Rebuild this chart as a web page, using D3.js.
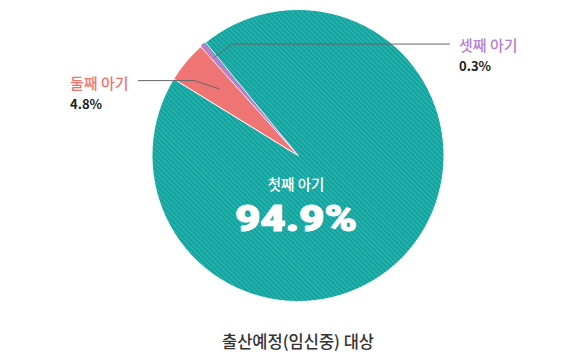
<!DOCTYPE html>
<html><head><meta charset="utf-8">
<script src="https://cdn.jsdelivr.net/npm/d3@7"></script>
<style>
body{margin:0;background:#fff;}
text{font-family:"Noto Sans CJK KR","Noto Sans",sans-serif;}
</style></head>
<body><svg id="c" width="570" height="364"></svg>
<script>
const categories = ["첫째 아기","둘째 아기","셋째 아기"];
const values = [94.9, 4.8, 0.3];
const valueLabels = ["94.9%","4.8%","0.3%"];
const colors = ["#10a39e","#ef7474","#b681cf"];
const title = "출산예정(임신중) 대상";

const svg = d3.select("#c");
const cx = 298, cy = 155.5, R = 146;
const defs = svg.append("defs");
const pat = defs.append("pattern").attr("id","stripe").attr("patternUnits","userSpaceOnUse")
  .attr("width",3.5).attr("height",3.5).attr("patternTransform","rotate(45)");
pat.append("rect").attr("width",3.5).attr("height",3.5).attr("fill","#0fa49f");
pat.append("rect").attr("width",3.5).attr("height",1.1).attr("fill","#38b5b0");

const startA = -40.0*Math.PI/180;
const pie = d3.pie().sort(null).value(d=>d).startAngle(startA).endAngle(startA+2*Math.PI);
const arcs = pie(values);
const arc = d3.arc().innerRadius(0).outerRadius(R);
const g = svg.append("g").attr("transform",`translate(${cx},${cy})`);
g.selectAll("path.s").data(arcs).join("path").attr("class","s")
  .attr("d",arc)
  .attr("fill",(d,i)=> i===0 ? "url(#stripe)" : colors[i])
  .attr("stroke",(d,i)=> i===2 ? colors[2] : "#fff")
  .attr("stroke-width",(d,i)=> i===2 ? 1.6 : 0.9).attr("stroke-linejoin","round");
// white separators just outside the small slice
const off = 0.75*Math.PI/180;
[arcs[2].startAngle-off, arcs[2].endAngle+off].forEach(a=>{
  g.append("line").attr("x1",0).attr("y1",0)
   .attr("x2",Math.sin(a)*R).attr("y2",-Math.cos(a)*R)
   .attr("stroke","#fff").attr("stroke-width",0.9);
});

// leader lines
function leader(d, rIn, dx, dy, hx){
  const a = (d.startAngle+d.endAngle)/2;
  const p1 = [Math.sin(a)*rIn, -Math.cos(a)*rIn];
  const p2 = [p1[0]+dx, p1[1]+dy];
  return [p1,p2,[hx,p2[1]]];
}
const line = d3.line();
const l1 = leader(arcs[1], 103, -25, -8.3, 138-cx);
const l2 = leader(arcs[2], 129, 18, -13.4, 450-cx);
[l1,l2].forEach(pts=>{
  g.append("path").attr("d",line(pts)).attr("fill","none").attr("stroke","#666").attr("stroke-width",1);
});

// labels
svg.append("text").attr("x",70).attr("y",89).attr("fill",colors[1]).attr("font-size",15).attr("font-weight",500).text(categories[1]);
svg.append("text").attr("x",70).attr("y",108.5).attr("fill","#222").attr("font-size",13).attr("font-weight",700).text(valueLabels[1]);
svg.append("text").attr("x",459).attr("y",50.5).attr("fill",colors[2]).attr("font-size",15).attr("font-weight",500).text(categories[2]);
svg.append("text").attr("x",459).attr("y",70.5).attr("fill","#222").attr("font-size",13).attr("font-weight",700).text(valueLabels[2]);

svg.append("text").attr("x",296).attr("y",190).attr("text-anchor","middle").attr("fill","#fff").attr("font-size",14.5).attr("font-weight",500).text(categories[0]);
svg.append("text").attr("transform","translate(296,230.5) scale(1.17,1)").attr("text-anchor","middle").attr("fill","#fff")
  .attr("stroke","#fff").attr("stroke-width",1.1).attr("stroke-linejoin","round")
  .style("font-family","Roboto, 'Noto Sans', sans-serif").attr("font-size",37.5).attr("font-weight",900)
  .text(valueLabels[0]);

svg.append("text").attr("x",298).attr("y",348).attr("text-anchor","middle").attr("fill","#333").attr("font-size",16.5).attr("font-weight",500).text(title);
</script></body></html>
